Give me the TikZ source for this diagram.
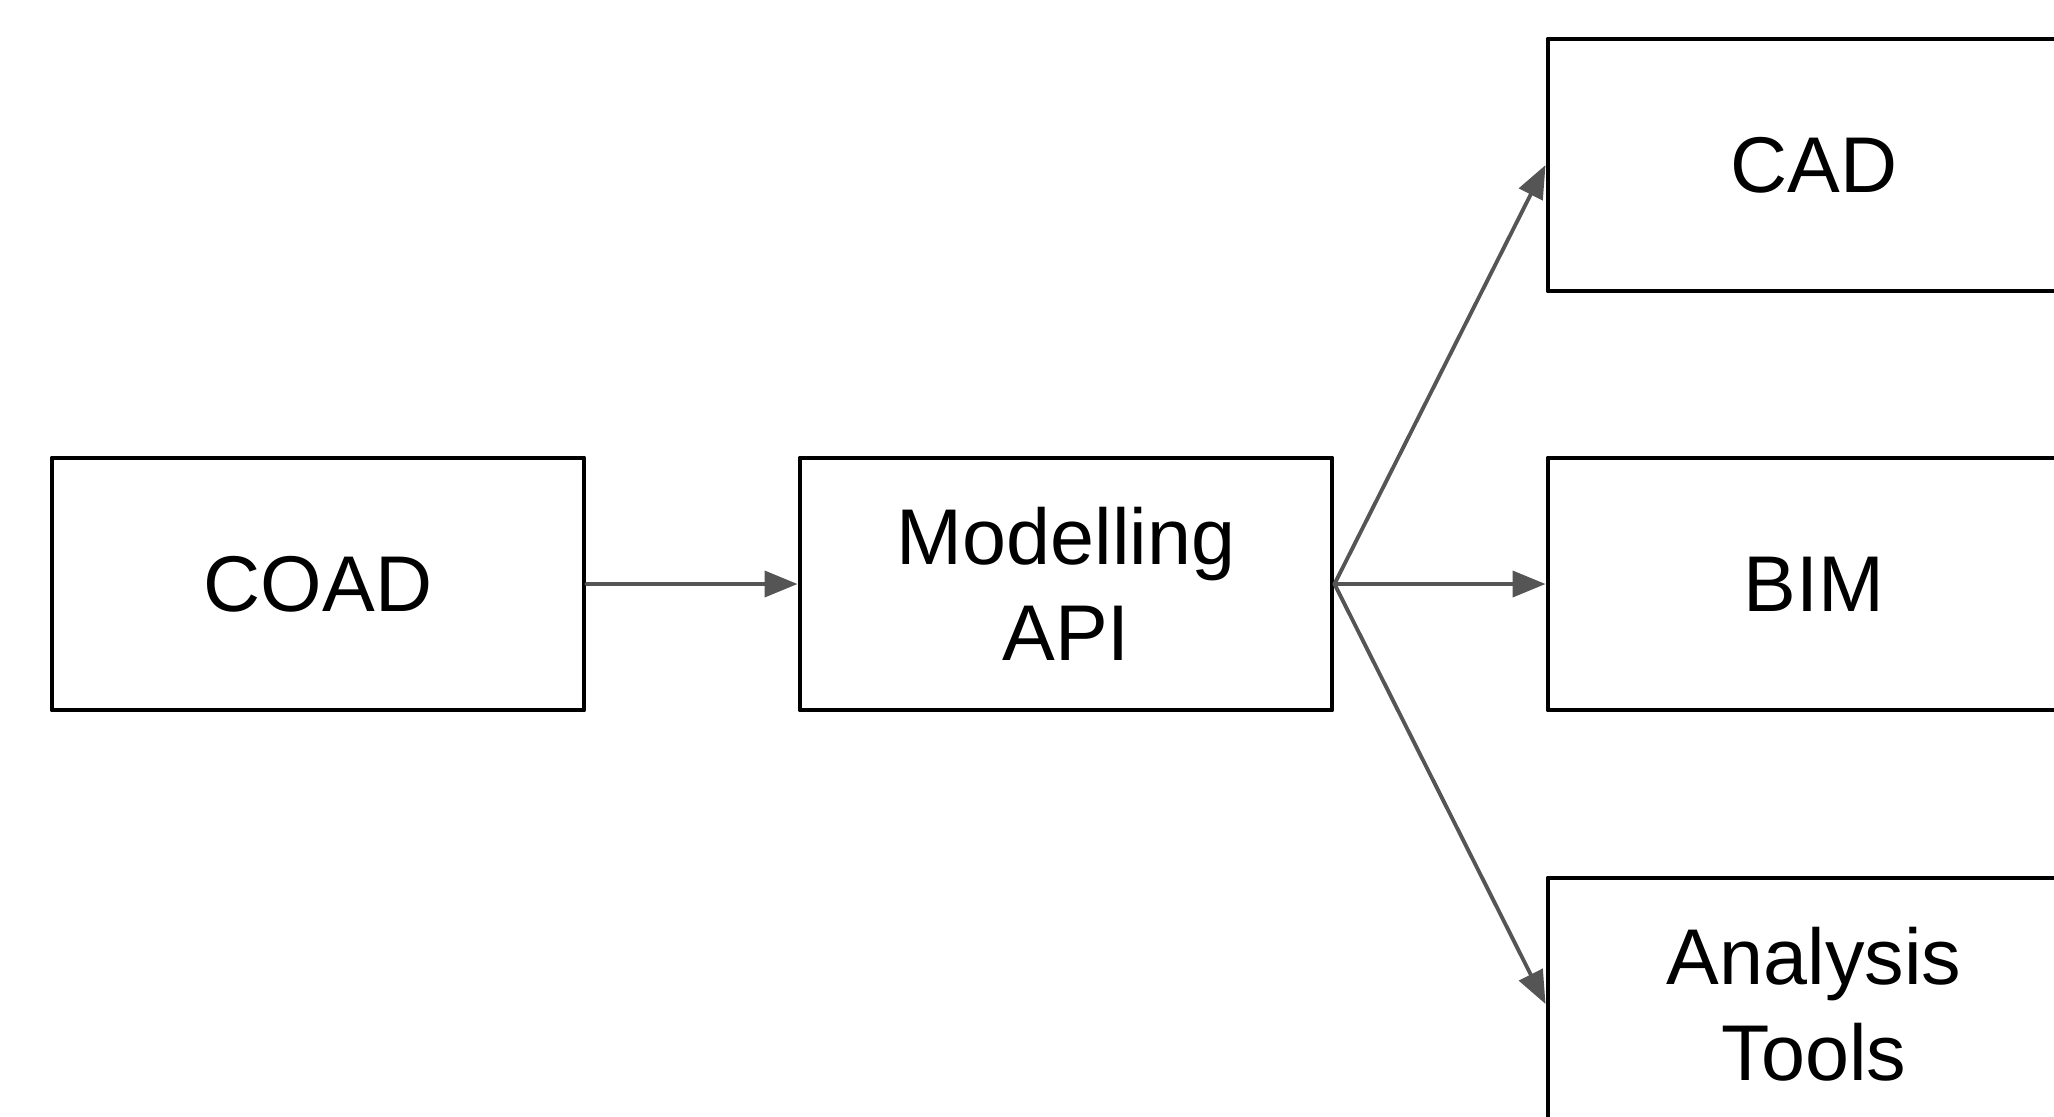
\documentclass[tikz,border=0pt]{standalone}
\usepackage{fontspec}
\setmainfont{Liberation Sans}
\usetikzlibrary{arrows.meta}

\begin{document}
\begin{tikzpicture}[line join=round, line cap=round]
        \definecolor{flowcolor}{RGB}{85,85,85}
        \tikzset{
            box/.style={draw=black, line width=1.4pt, minimum width=5.32cm, minimum height=2.52cm,
                inner sep=0pt, align=center, font=\fontsize{22.5}{27.3}\selectfont},
            flow/.style={draw=flowcolor, line width=1.1pt, -{Triangle[length=0.33cm, width=0.26cm]}}
        }
        \useasboundingbox (0,0) rectangle (20.54,-11.16);
        \clip (0,0) rectangle (20.54,-11.16);

        \node[box] (coad) at (3.18,-5.84) {COAD};
        \node[box] (api) at (10.66,-5.84) {Modelling\\API};
        \node[box] (cad) at (18.14,-1.65) {CAD};
        \node[box] (bim) at (18.14,-5.84) {BIM};
        \node[box] (tools) at (18.14,-10.04) {Analysis\\Tools};

        \draw[flow] (coad.east) -- (api.west);
        \draw[flow] (api.east) -- (cad.west);
        \draw[flow] (api.east) -- (bim.west);
        \draw[flow] (api.east) -- (tools.west);
    \end{tikzpicture}
\end{document}
